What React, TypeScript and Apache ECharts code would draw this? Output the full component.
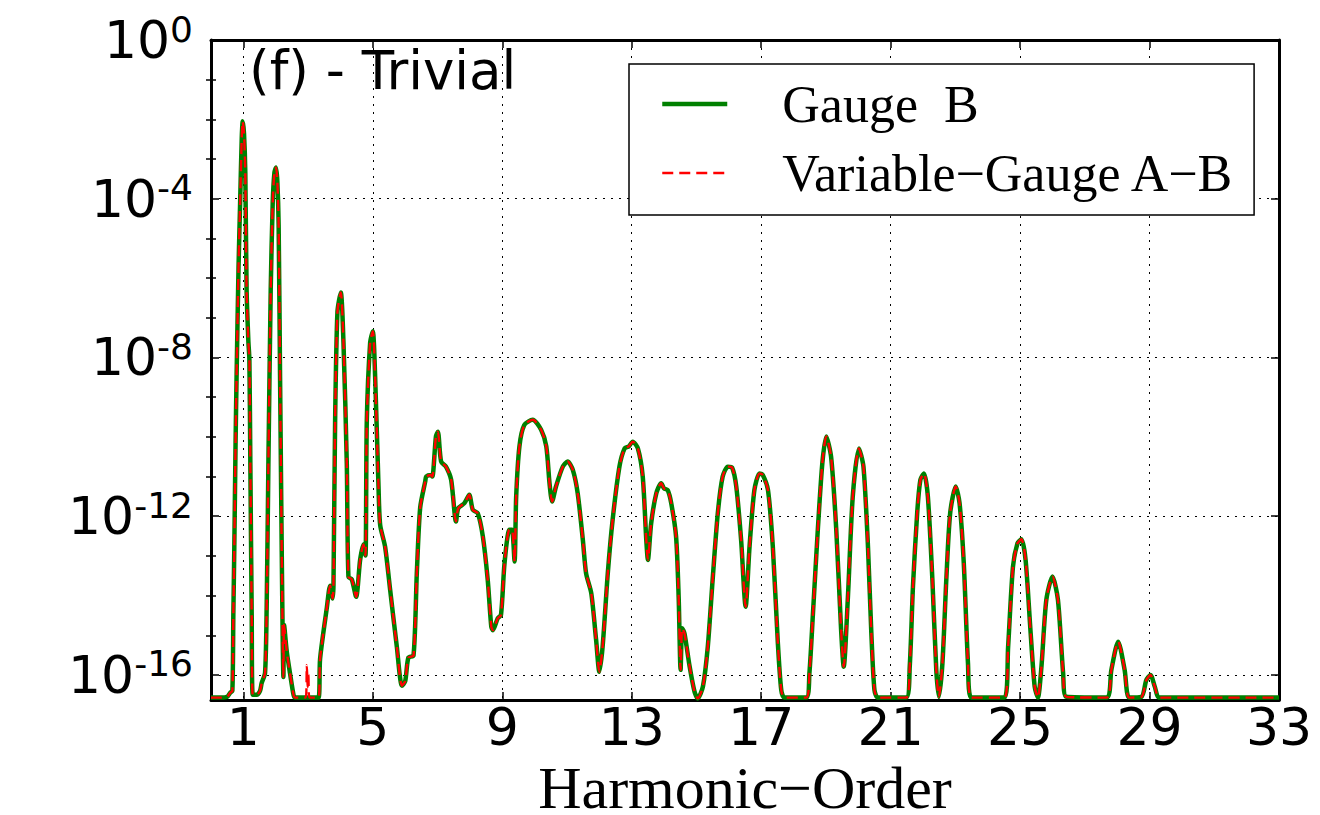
import React, { useEffect, useRef } from "react";
import * as echarts from "echarts";

// Harmonic order ticks (x) and decade exponents (y, log10 of intensity)
const xTicks = [1, 5, 9, 13, 17, 21, 25, 29, 33];
const yMajorTicks = [0, -4, -8, -12, -16];
const yMinorTicks = [-1, -2, -3, -5, -6, -7, -9, -10, -11, -13, -14, -15];

const seriesNames = ["Gauge  B", "Variable\u2212Gauge A\u2212B"];

// [harmonic order, log10(intensity)]
const gaugeB: [number, number][] = [
  [0, -16.57], [0.3, -16.57], [0.5, -16.55], [0.59, -16.45], [0.66, -16.4],
  [0.69, -14.5], [0.72, -12.8], [0.76, -10.1], [0.79, -8.5], [0.85, -5.75],
  [0.9, -4.1], [0.95, -2.47], [0.98, -2.05], [1.02, -2.36], [1.06, -3.34],
  [1.1, -6.3], [1.155, -7.6], [1.186, -8.05], [1.216, -10.7], [1.258, -14.5],
  [1.29, -16.5], [1.41, -16.5], [1.515, -16.4], [1.567, -16.2], [1.67, -15.95],
  [1.72, -14.3], [1.773, -10.7], [1.845, -6.3], [1.907, -4.1], [1.96, -3.34],
  [2.01, -3.21], [2.05, -3.56], [2.09, -4.66], [2.134, -8.5], [2.186, -12.9],
  [2.216, -15.1], [2.237, -16.05], [2.258, -14.74], [2.34, -15.4], [2.44, -15.95],
  [2.55, -16.5], [2.6, -16.57], [3.32, -16.57], [3.37, -15.6], [3.58, -14.3],
  [3.68, -13.75], [3.76, -14.07], [3.784, -13.75], [3.835, -9.6], [3.907, -6.85],
  [4.01, -6.36], [4.093, -7.62], [4.196, -10.68], [4.247, -13.53], [4.35, -13.59],
  [4.485, -14.03], [4.608, -13.1], [4.71, -12.71], [4.773, -12.99], [4.814, -9.6],
  [4.918, -7.62], [5.0, -7.34], [5.072, -8.49], [5.175, -11.23], [5.227, -12.22],
  [5.38, -12.77], [5.536, -13.86], [5.742, -15.29], [5.9, -16.27], [6.0, -16.16],
  [6.1, -15.56], [6.258, -15.51], [6.36, -13.42], [6.464, -11.78], [6.62, -11.12],
  [6.65, -11.0], [6.8, -10.96], [6.84, -11.0], [6.95, -9.99], [7.01, -9.87],
  [7.11, -10.62], [7.26, -10.75], [7.42, -11.08], [7.57, -12.13], [7.64, -11.8],
  [7.83, -11.67], [7.98, -11.46], [8.09, -11.84], [8.24, -11.92], [8.4, -12.51],
  [8.55, -13.6], [8.66, -14.78], [8.71, -14.87], [8.86, -14.57], [8.96, -14.49],
  [9.07, -13.18], [9.22, -12.34], [9.3, -12.34], [9.38, -13.14], [9.43, -11.5],
  [9.53, -10.24], [9.68, -9.7], [9.94, -9.57], [10.2, -9.82], [10.36, -10.24],
  [10.46, -11.17], [10.54, -11.63], [10.66, -11.25], [10.87, -10.75], [11.02, -10.62],
  [11.18, -10.83], [11.33, -11.42], [11.49, -12.6], [11.59, -13.44], [11.75, -13.94],
  [11.9, -15.12], [12.0, -15.92], [12.1, -15.29], [12.26, -13.44], [12.41, -12.09],
  [12.62, -10.75], [12.78, -10.29], [12.91, -10.24], [13.03, -10.12], [13.19, -10.29],
  [13.34, -11.0], [13.45, -12.6], [13.5, -13.1], [13.6, -12.18], [13.76, -11.42],
  [13.91, -11.17], [14.0, -11.3], [14.11, -11.34], [14.22, -11.67], [14.37, -12.51],
  [14.45, -14.03], [14.51, -15.87], [14.56, -14.82], [14.63, -14.95], [14.79, -15.79],
  [14.94, -16.42], [15.04, -16.59], [15.2, -16.29], [15.35, -15.29], [15.5, -13.6],
  [15.66, -11.92], [15.81, -11.0], [15.97, -10.75], [16.1, -10.77], [16.23, -11.25],
  [16.38, -12.6], [16.52, -14.28], [16.64, -12.77], [16.79, -11.34], [16.95, -10.92],
  [17.05, -10.96], [17.21, -11.34], [17.36, -12.77], [17.51, -15.12], [17.62, -16.38],
  [17.72, -16.57], [18.39, -16.57], [18.49, -15.96], [18.6, -14.45], [18.75, -12.34],
  [18.89, -10.66], [19.01, -9.99], [19.16, -10.5], [19.32, -12.34], [19.47, -14.87],
  [19.55, -15.79], [19.68, -14.03], [19.83, -11.5], [20.02, -10.29], [20.16, -10.75],
  [20.3, -12.77], [20.4, -14.87], [20.5, -16.38], [20.61, -16.57], [21.48, -16.57],
  [21.59, -15.79], [21.69, -13.77], [21.82, -11.92], [21.92, -11.08], [22.03, -10.92],
  [22.15, -11.5], [22.29, -13.6], [22.41, -15.87], [22.49, -16.55], [22.6, -15.71],
  [22.72, -13.6], [22.84, -11.92], [23.01, -11.25], [23.13, -11.67], [23.26, -13.18],
  [23.39, -15.71], [23.49, -16.57], [24.52, -16.57], [24.63, -15.29], [24.78, -13.27],
  [24.92, -12.68], [25.04, -12.58], [25.17, -13.1], [25.32, -14.87], [25.45, -16.29],
  [25.55, -16.57], [25.66, -15.79], [25.81, -14.11], [26.0, -13.52], [26.17, -14.11],
  [26.33, -15.96], [26.43, -16.55], [27.67, -16.57], [27.82, -15.87], [28.03, -15.16],
  [28.23, -15.87], [28.37, -16.57], [28.75, -16.55], [28.9, -16.13], [29.03, -16.0],
  [29.16, -16.29], [29.31, -16.57], [33, -16.57],
];

// extra feature seen only in the variable-gauge curve
const variableSpike: [number, number][] = [
  [2.93, -16.57], [2.96, -15.75], [2.99, -16.3], [3.01, -16.0], [3.04, -16.57],
];

const variableGaugeAB: [number, number][] = [...gaugeB, ...variableSpike].sort(
  (a, b) => a[0] - b[0]
);

const Y_MIN = -16.63;
const Y_MAX = 0;

const SANS = "DejaVu Sans";
const SERIF = "Liberation Serif";

export default function App() {
  const ref = useRef<HTMLDivElement>(null);

  useEffect(() => {
    if (!ref.current) return;
    const chart = echarts.init(ref.current, null, { renderer: "svg" });

    const frame = { show: true, onZero: false, lineStyle: { color: "#000", width: 3 } };
    const gridLine = { show: true, lineStyle: { color: "#000", width: 1, type: [2, 6] } };

    const yBase = (position: string, ticks: number[], length: number, extra: any = {}) => ({
      type: "value",
      min: Y_MIN,
      max: Y_MAX,
      position,
      axisLine: { show: false },
      axisTick: {
        show: true,
        inside: true,
        length,
        customValues: ticks,
        lineStyle: { color: "#000", width: 1.5 },
      },
      axisLabel: { show: false },
      splitLine: { show: false },
      ...extra,
    });

    const option: any = {
      animation: false,
      backgroundColor: "#fff",
      title: {
        text: "(f) - Trivial",
        left: 249,
        top: 44,
        padding: 0,
        textStyle: { fontFamily: SANS, fontSize: 53, fontWeight: "normal", color: "#000" },
      },
      legend: {
        orient: "vertical",
        left: 629,
        top: 64,
        padding: [14, 19, 16, 31],
        itemWidth: 65,
        itemHeight: 14,
        itemGap: 17,
        backgroundColor: "#fff",
        borderColor: "#000",
        borderWidth: 1.5,
        borderRadius: 0,
        itemStyle: { color: "rgba(0,0,0,0)", borderWidth: 0, opacity: 0 },
        lineStyle: { width: "inherit", type: "inherit", color: "inherit" },
        textStyle: {
          fontFamily: SERIF,
          fontSize: 52,
          lineHeight: 52,
          color: "#000",
          padding: [0, 0, 0, 50],
        },
        data: seriesNames,
      },
      grid: { left: 211, right: 41, top: 40, bottom: 115, outerBoundsMode: "none", containLabel: false },
      xAxis: [
        {
          type: "value",
          min: 0,
          max: 33,
          position: "bottom",
          axisLine: frame,
          axisTick: {
            show: true,
            inside: true,
            length: 8,
            customValues: xTicks,
            lineStyle: { color: "#000", width: 1.5 },
          },
          axisLabel: {
            customValues: xTicks,
            margin: 1,
            fontFamily: SANS,
            fontSize: 52,
            color: "#000",
          },
          splitLine: gridLine,
          name: "Harmonic\u2212Order",
          nameLocation: "middle",
          nameGap: 38,
          nameTextStyle: { fontFamily: SERIF, fontSize: 60, lineHeight: 54, color: "#000" },
        },
        {
          type: "value",
          min: 0,
          max: 33,
          position: "top",
          axisLine: frame,
          axisTick: {
            show: true,
            inside: true,
            length: 8,
            customValues: xTicks,
            lineStyle: { color: "#000", width: 1.5 },
          },
          axisLabel: { show: false },
          splitLine: { show: false },
        },
      ],
      yAxis: [
        yBase("left", yMajorTicks, 8, {
          axisLine: frame,
          splitLine: gridLine,
          axisLabel: {
            show: true,
            customValues: yMajorTicks,
            margin: 18,
            formatter: (v: number) => `{b|10}{s|${Math.round(v)}}`,
            rich: {
              b: { fontFamily: SANS, fontSize: 52, lineHeight: 58, color: "#000" },
              s: { fontFamily: SANS, fontSize: 36, lineHeight: 30, verticalAlign: "top", color: "#000" },
            },
          },
        }),
        yBase("left", yMinorTicks, 5),
        yBase("right", yMajorTicks, 8, { axisLine: frame }),
        yBase("right", yMinorTicks, 5),
      ],
      series: [
        {
          name: seriesNames[0],
          type: "line",
          xAxisIndex: 0,
          yAxisIndex: 0,
          data: gaugeB,
          symbol: "none",
          showSymbol: false,
          smooth: 0.25,
          color: "#008000",
          lineStyle: { color: "#008000", width: 4.5 },
          z: 3,
        },
        {
          name: seriesNames[1],
          type: "line",
          xAxisIndex: 0,
          yAxisIndex: 0,
          data: variableGaugeAB,
          symbol: "none",
          showSymbol: false,
          smooth: 0.25,
          color: "#ff0000",
          lineStyle: { color: "#ff0000", width: 2.4, type: [11, 6] },
          z: 4,
        },
      ],
    };

    chart.setOption(option);
    return () => chart.dispose();
  }, []);

  return (
    <div
      ref={ref}
      style={{ position: "fixed", left: 0, top: 0, width: 1320, height: 815, background: "#fff" }}
    />
  );
}
